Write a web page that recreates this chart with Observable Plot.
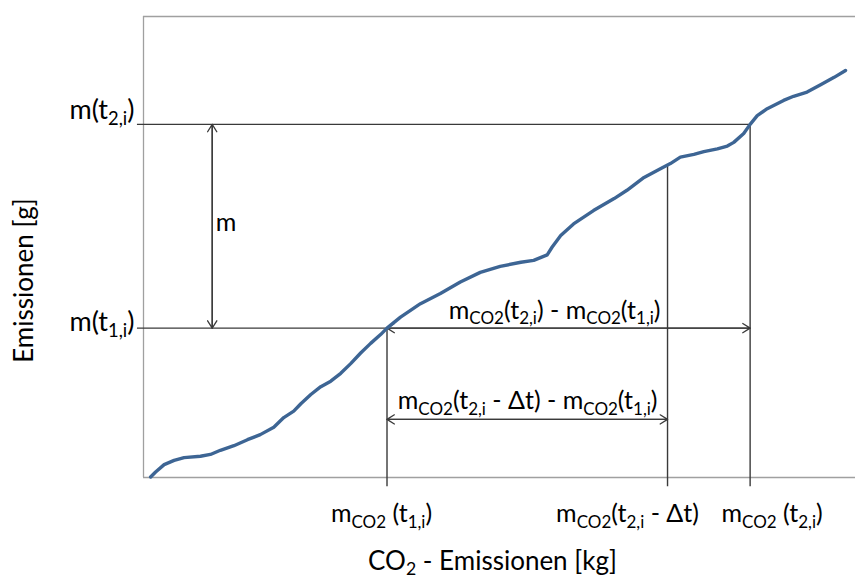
<!DOCTYPE html>
<html>
<head>
<meta charset="utf-8">
<script src="https://cdn.jsdelivr.net/npm/d3@7"></script>
<script src="https://cdn.jsdelivr.net/npm/@observablehq/plot@0.6"></script>
<style>
  html, body { margin: 0; padding: 0; background: #fff; }
  #chart svg { display: block; }
</style>
</head>
<body>
<div id="chart"></div>
<script>
// ---- data (abstract units: both axes 0..100) ----
const curveX = [1.0, 1.7, 2.9, 4.3, 5.7, 8.0, 9.4, 10.8, 12.7, 14.6, 16.4, 18.3, 19.7, 21.1, 22.1, 23.5, 24.9, 26.3, 27.7, 29.1, 30.5, 31.9, 33.3, 34.2, 36.1, 38.9, 41.7, 44.5, 47.3, 50.1, 53.0, 54.8, 56.7, 57.4, 58.6, 60.4, 63.2, 66.1, 67.9, 70.3, 72.6, 74.0, 75.4, 77.3, 78.7, 80.6, 82.0, 82.9, 84.3, 85.2, 86.2, 87.6, 89.9, 91.3, 93.2, 95.1, 97.0, 98.6];
const curveY = [0.1, 1.2, 2.8, 3.7, 4.3, 4.6, 5.0, 5.9, 6.9, 8.2, 9.3, 10.9, 13.0, 14.4, 16.0, 18.0, 19.7, 20.9, 22.6, 24.7, 27.0, 29.1, 31.0, 32.4, 34.8, 37.7, 39.9, 42.4, 44.5, 45.8, 46.7, 47.1, 48.3, 50.0, 52.5, 55.0, 57.9, 60.5, 62.3, 65.1, 67.0, 68.1, 69.5, 70.1, 70.7, 71.3, 71.9, 72.7, 74.6, 76.6, 78.5, 80.0, 81.8, 82.7, 83.6, 85.2, 86.8, 88.3];

// marked x values: m_CO2(t1,i), m_CO2(t2,i - Δt), m_CO2(t2,i)
const xMarks = [34.2, 73.6, 85.2];
// curve value at each marked x
const yAtMarks = [32.4, 67.8, 76.6];
// marked y levels: m(t1,i), m(t2,i)
const yLevels = [32.4, 76.6];
// annotation helpers
const mArrowX = 9.65;
const lowerArrowY = 12.6;
const tickOut = [-0.85, -2.0];   // how far reference lines reach past the axes (x, y)

// ---- texts ----
const xTickLabels = ["m_{CO2} (t_{1,i})", "m_{CO2}(t_{2,i} - Δt)", "m_{CO2} (t_{2,i})"];
const yTickLabels = ["m(t_{1,i})", "m(t_{2,i})"];
const annotations = ["m", "m_{CO2}(t_{2,i}) - m_{CO2}(t_{1,i})", "m_{CO2}(t_{2,i} - Δt) - m_{CO2}(t_{1,i})"];
const xTitle = "CO_{2} - Emissionen [kg]";
const yTitle = "Emissionen [g]";

// ---- derived tables ----
const curve = curveX.map((x, i) => ({x, y: curveY[i]}));
const segments = [
  {x1: mArrowX, y1: yLevels[0], x2: mArrowX, y2: yLevels[1]},
  {x1: xMarks[0], y1: yLevels[0], x2: xMarks[2], y2: yLevels[0]},
  {x1: xMarks[0], y1: lowerArrowY, x2: xMarks[1], y2: lowerArrowY}
];
const arrows = segments.flatMap(s => [s, {x1: s.x2, y1: s.y2, x2: s.x1, y2: s.y1}]);
const vLines = xMarks.map((x, i) => ({x, y1: yAtMarks[i], y2: tickOut[1]}));
const hLines = [
  {y: yLevels[0], x1: tickOut[0], x2: xMarks[0]},
  {y: yLevels[1], x1: tickOut[0], x2: xMarks[2]}
];

const FS = 25, YFS = 27, TFS = 26;
const ink = "#3a3a3a", frameCol = "#a0a0a0", blue = "#3d6594";

const chart = Plot.plot({
  width: 855,
  height: 581,
  marginLeft: 143,
  marginRight: 0,
  marginTop: 16,
  marginBottom: 104,
  x: {domain: [0, 100], axis: null},
  y: {domain: [0, 100], axis: null},
  style: {fontFamily: "Lato, 'Open Sans', sans-serif", background: "#fff", color: "#000", overflow: "visible"},
  marks: [
    // frame (left, bottom, top)
    Plot.ruleX([0], {y1: 0, y2: 100, stroke: frameCol, strokeWidth: 1.3}),
    Plot.ruleY([0, 100], {x1: 0, x2: 100, stroke: frameCol, strokeWidth: 1.3}),
    // reference lines
    Plot.ruleY(hLines, {y: "y", x1: "x1", x2: "x2", stroke: ink, strokeWidth: 1.4}),
    Plot.ruleX(vLines, {x: "x", y1: "y1", y2: "y2", stroke: ink, strokeWidth: 1.4}),
    // double-headed arrows
    Plot.arrow(arrows, {x1: "x1", y1: "y1", x2: "x2", y2: "y2", stroke: ink, strokeWidth: 1.3, headLength: 10, headAngle: 64}),
    // curve
    Plot.line(curve, {x: "x", y: "y", stroke: blue, strokeWidth: 3.4, strokeLinejoin: "round", strokeLinecap: "round"}),
    // y tick labels
    Plot.text([yTickLabels[0]], {x: 0, y: yLevels[0], textAnchor: "end", lineAnchor: "middle", dx: -9, dy: -5.5, fontSize: YFS}),
    Plot.text([yTickLabels[1]], {x: 0, y: yLevels[1], textAnchor: "end", lineAnchor: "middle", dx: -9, dy: -14, fontSize: YFS}),
    // x tick labels
    Plot.text([xTickLabels[0]], {x: xMarks[0], y: 0, lineAnchor: "middle", dx: -5.5, dy: 36.5, fontSize: FS}),
    Plot.text([xTickLabels[1]], {x: xMarks[1], y: 0, lineAnchor: "middle", dx: -40, dy: 36.5, fontSize: FS}),
    Plot.text([xTickLabels[2]], {x: xMarks[2], y: 0, lineAnchor: "middle", dx: 22, dy: 36.5, fontSize: FS}),
    // annotations
    Plot.text([annotations[0]], {x: mArrowX, y: (yLevels[0] + yLevels[1]) / 2, textAnchor: "start", lineAnchor: "middle", dx: 3.5, dy: -3.5, fontSize: FS}),
    Plot.text([annotations[1]], {x: xMarks[1], y: yLevels[0], textAnchor: "end", lineAnchor: "middle", dx: -7, dy: -17.5, fontSize: FS}),
    Plot.text([annotations[2]], {x: xMarks[1], y: lowerArrowY, textAnchor: "end", lineAnchor: "middle", dx: -10, dy: -18, fontSize: FS}),
    // axis titles
    Plot.text([xTitle], {frameAnchor: "bottom", textAnchor: "middle", lineAnchor: "middle", dx: -7, dy: 84, fontSize: TFS}),
    Plot.text([yTitle], {frameAnchor: "left", textAnchor: "middle", lineAnchor: "middle", rotate: -90, dx: -118.5, dy: 33.5, fontSize: TFS})
  ]
});

// turn "_{...}" markup into real subscript tspans
const SVGNS = "http://www.w3.org/2000/svg";
d3.select(chart).selectAll("text").each(function () {
  const s = this.textContent;
  if (!s.includes("_{")) return;
  const fs = parseFloat(this.getAttribute("font-size")) || FS;
  const shift = 0.22 * fs;
  this.textContent = "";
  const re = /_\{([^}]*)\}/g;
  let last = 0, m, lowered = false;
  const add = (txt, sub) => {
    if (!txt) return;
    const t = document.createElementNS(SVGNS, "tspan");
    t.textContent = txt;
    if (sub) {
      t.setAttribute("font-size", "68%");
      if (!lowered) { t.setAttribute("dy", shift); lowered = true; }
    } else if (lowered) {
      t.setAttribute("dy", -shift); lowered = false;
    }
    this.appendChild(t);
  };
  while ((m = re.exec(s))) {
    add(s.slice(last, m.index), false);
    add(m[1], true);
    last = re.lastIndex;
  }
  add(s.slice(last), false);
});

document.getElementById("chart").appendChild(chart);
</script>
</body>
</html>
